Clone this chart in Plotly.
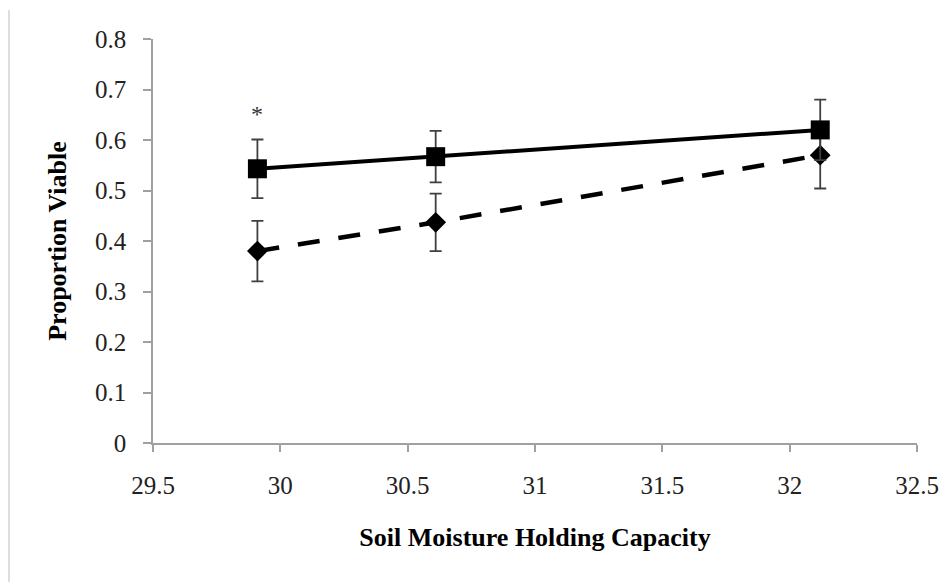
import plotly.graph_objects as go

# Data
moisture = [29.91, 30.61, 32.12]
square_vals = [0.543, 0.567, 0.620]
square_err = [0.058, 0.051, 0.060]
diamond_vals = [0.380, 0.437, 0.570]
diamond_err = [0.060, 0.057, 0.066]
y_ticks = [0, 0.1, 0.2, 0.3, 0.4, 0.5, 0.6, 0.7, 0.8]
x_ticks = [29.5, 30, 30.5, 31, 31.5, 32, 32.5]
star_pos = (29.91, 0.652)

FONT = "Liberation Serif, Times New Roman, serif"
AXIS_GRAY = "#a0a0a0"
ERR_COLOR = "#404040"

fig = go.Figure()

fig.add_trace(go.Scatter(
    x=moisture, y=diamond_vals, mode="lines+markers", name="Diamond series",
    line=dict(color="black", width=4.5, dash="22px,19px"),
    marker=dict(symbol="diamond", size=16, color="black"),
    error_y=dict(type="data", array=diamond_err, color=ERR_COLOR, thickness=1.8, width=6),
    showlegend=False,
))
fig.add_trace(go.Scatter(
    x=moisture, y=square_vals, mode="lines+markers", name="Square series",
    line=dict(color="black", width=4),
    marker=dict(symbol="square", size=19, color="black"),
    error_y=dict(type="data", array=square_err, color=ERR_COLOR, thickness=1.8, width=6),
    showlegend=False,
))

fig.add_annotation(x=star_pos[0], y=star_pos[1], text="*", showarrow=False,
                   font=dict(family=FONT, size=24, color="#333333"))

# faint vertical border line at the far left of the picture
fig.add_shape(type="line", xref="paper", yref="paper",
              xsizemode="pixel", ysizemode="pixel", xanchor=0, yanchor=1,
              x0=-144, x1=-144, y0=29, y1=-545,
              line=dict(color="#c8c8c8", width=1.2))

fig.update_layout(
    width=947, height=582,
    margin=dict(l=153, r=30, t=39, b=139),
    paper_bgcolor="white", plot_bgcolor="white",
    font=dict(family=FONT, color="black"),
    xaxis=dict(
        range=[29.5, 32.5], tickvals=x_ticks, ticktext=[f"{v:g}" for v in x_ticks],
        showline=True, linecolor=AXIS_GRAY, linewidth=1.6,
        ticks="outside", ticklen=7, tickwidth=1.6, tickcolor=AXIS_GRAY,
        showgrid=False, zeroline=False, automargin=False,
        tickfont=dict(family=FONT, size=25, color="#222222"),
        ticklabelstandoff=12,
        title=dict(text="<b>Soil Moisture Holding Capacity</b>",
                   font=dict(family=FONT, size=26, color="black"), standoff=30),
    ),
    yaxis=dict(
        range=[0, 0.8], tickvals=y_ticks, ticktext=[f"{v:g}" for v in y_ticks],
        showline=True, linecolor=AXIS_GRAY, linewidth=1.6,
        ticks="outside", ticklen=8, tickwidth=1.6, tickcolor=AXIS_GRAY,
        showgrid=False, zeroline=False, automargin=False,
        tickfont=dict(family=FONT, size=25, color="#222222"),
        ticklabelstandoff=12,
        title=dict(text="<b>Proportion Viable</b>",
                   font=dict(family=FONT, size=26, color="black"), standoff=21),
    ),
)

fig.write_html("out.html", config={"displayModeBar": False},
               post_script="document.body.style.margin='0';document.body.style.padding='0';")
